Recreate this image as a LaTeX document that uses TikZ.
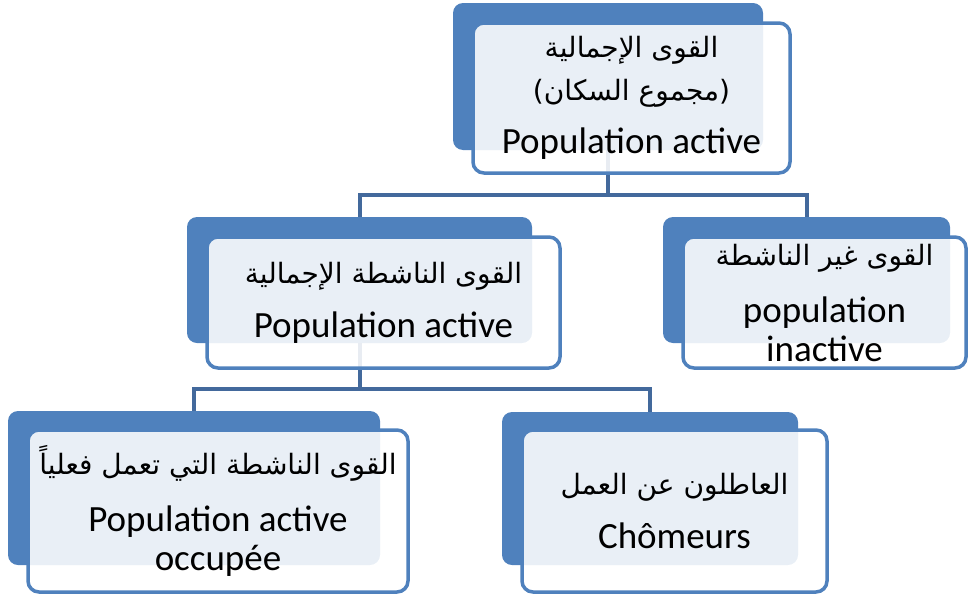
\documentclass[tikz,border=0pt]{standalone}
\usepackage{fontspec}
\setmainfont{Carlito}
\newfontfamily\arabicfont[Script=Arabic]{DejaVu Sans}
\TeXXeTstate=1

\definecolor{boxblue}{HTML}{4F81BD}
\definecolor{linkblue}{HTML}{43699C}
\newcommand{\ar}[1]{{\arabicfont\fontsize{28}{32}\selectfont\beginR #1\endR}}

\tikzset{
  back/.style={fill=boxblue, rounded corners=10pt, inner sep=0pt},
  front/.style={draw=boxblue, line width=3.5pt, fill=white, fill opacity=0.88,
    text opacity=1, rounded corners=11pt, align=center, inner sep=0pt,
    font=\fontsize{37}{39}\selectfont},
  link/.style={draw=linkblue, line width=4pt}
}

\begin{document}
\begin{tikzpicture}[x=1pt, y=-1pt]
    \useasboundingbox (0,0) rectangle (968,597);

    % back boxes
    \node[back, minimum width=310pt, minimum height=147pt] (totb) at (608,76.5) {};
    \node[back, minimum width=345pt, minimum height=126pt] (actb) at (359.5,280) {};
    \node[back, minimum width=287pt, minimum height=126pt] (inab) at (806.5,280) {};
    \node[back, minimum width=372pt, minimum height=154pt] (occb) at (194,488) {};
    \node[back, minimum width=296pt, minimum height=153pt] (chob) at (650,488.5) {};

    % connectors
    \coordinate (hub1) at (608,195);
    \coordinate (hub2) at (359.5,389);
    \draw[link] (totb.south) -- (hub1) -| (actb.north);
    \draw[link] (hub1) -| (inab.north);
    \draw[link] (actb.south) -- (hub2) -| (occb.north);
    \draw[link] (hub2) -| (chob.north);

    % front boxes
    \node[front, minimum width=317pt, minimum height=150pt] (tot) at (631.5,98)
        {\ar{القوى الإجمالية}\\[4pt]\ar{(مجموع السكان)}\\[14pt]Population active};
    \node[front, minimum width=353pt, minimum height=131pt] (act) at (383.5,302.5)
        {\ar{القوى الناشطة الإجمالية}\\[15pt]Population active};
    \node[front, minimum width=283pt, minimum height=131pt] (ina) at (824.5,302.5)
        {\ar{القوى غير الناشطة}\\[18pt]population\\inactive};
    \node[front, minimum width=380pt, minimum height=162pt] (occ) at (218,511)
        {\ar{القوى الناشطة التي تعمل فعلياً}\\[18pt]Population active\\occupée};
    \node[front, minimum width=305pt, minimum height=162pt] (cho) at (674.5,511)
        {\ar{العاطلون عن العمل}\\[15pt]Chômeurs};
\end{tikzpicture}
\end{document}
